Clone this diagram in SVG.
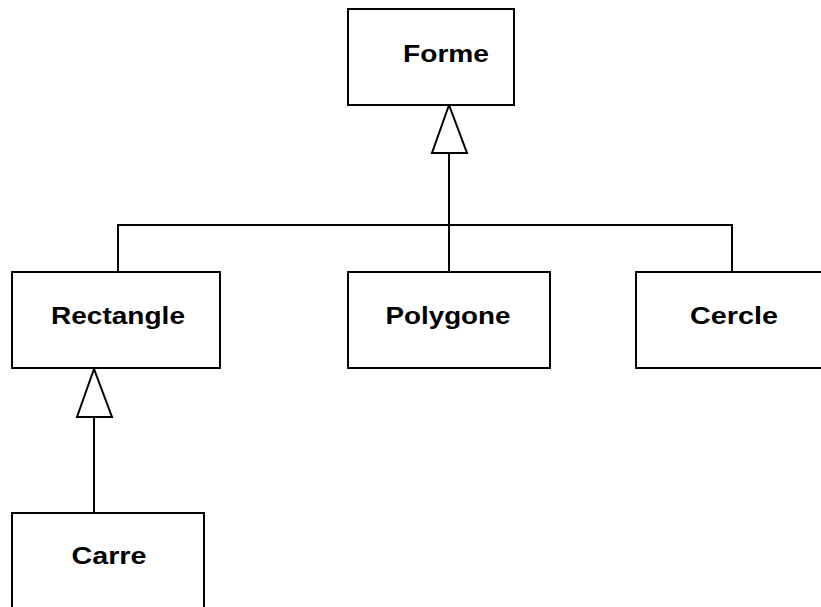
<svg xmlns="http://www.w3.org/2000/svg" width="821" height="607" viewBox="0 0 821 607">
<style>
.box{fill:#fff;stroke:#000;stroke-width:2}
.lbl{font-family:"Liberation Sans",Arial,sans-serif;font-weight:bold;font-size:23px;fill:#000;text-anchor:middle}
.ln{fill:none;stroke:#000;stroke-width:2}
.tri{fill:#fff;stroke:#000;stroke-width:2;stroke-linejoin:miter}
</style>
<rect width="821" height="607" fill="#fff"/>
<g id="connectors">
<polyline class="ln" points="118,271 118,225 732,225 732,271"/>
<line class="ln" x1="449" y1="153" x2="449" y2="271"/>
<polygon class="tri" points="449,105 432,153 467,153"/>
<line class="ln" x1="94" y1="417" x2="94" y2="512"/>
<polygon class="tri" points="94,369 77,417 112,417"/>
</g>
<g id="forme">
<rect class="box" x="348" y="9" width="166" height="96"/>
<text class="lbl" x="446" y="62" textLength="86" lengthAdjust="spacingAndGlyphs">Forme</text>
</g>
<g id="rectangle">
<rect class="box" x="12" y="272" width="208" height="96"/>
<text class="lbl" x="118" y="324" textLength="134" lengthAdjust="spacingAndGlyphs">Rectangle</text>
</g>
<g id="polygone">
<rect class="box" x="348" y="272" width="202" height="96"/>
<text class="lbl" x="448" y="324" textLength="125" lengthAdjust="spacingAndGlyphs">Polygone</text>
</g>
<g id="cercle">
<rect class="box" x="636" y="272" width="196" height="96"/>
<text class="lbl" x="734" y="324" textLength="88" lengthAdjust="spacingAndGlyphs">Cercle</text>
</g>
<g id="carre">
<rect class="box" x="12" y="513" width="192" height="110"/>
<text class="lbl" x="109" y="564" textLength="75" lengthAdjust="spacingAndGlyphs">Carre</text>
</g>
</svg>
